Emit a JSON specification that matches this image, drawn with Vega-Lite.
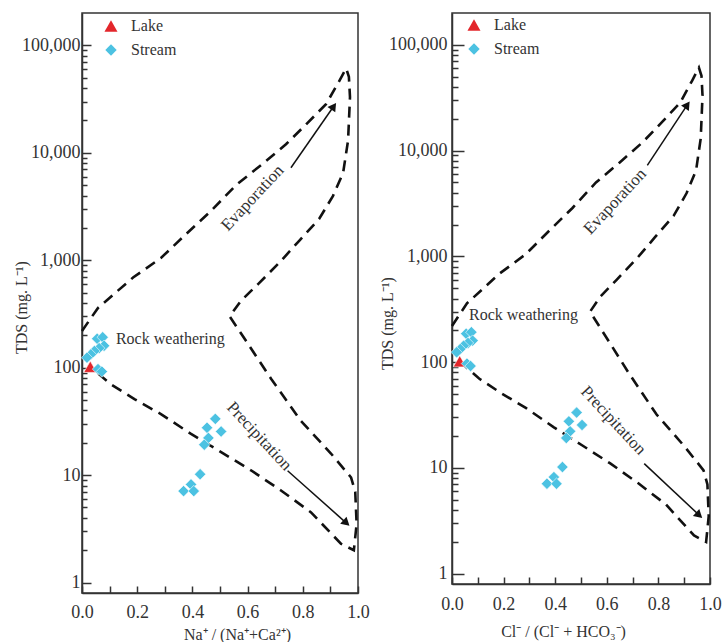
{
  "$schema": "https://vega.github.io/schema/vega-lite/v6.json",
  "background": "white",
  "padding": {"left": 12, "top": 12, "right": 0, "bottom": 0},
  "spacing": 8,
  "datasets": {
    "samples": [
      {"ratio": 0.03, "tds": 102, "type": "Lake"},
      {"ratio": 0.055, "tds": 186, "type": "Stream"},
      {"ratio": 0.075, "tds": 192, "type": "Stream"},
      {"ratio": 0.08, "tds": 160, "type": "Stream"},
      {"ratio": 0.062, "tds": 152, "type": "Stream"},
      {"ratio": 0.045, "tds": 143, "type": "Stream"},
      {"ratio": 0.032, "tds": 133, "type": "Stream"},
      {"ratio": 0.018, "tds": 124, "type": "Stream"},
      {"ratio": 0.058, "tds": 97, "type": "Stream"},
      {"ratio": 0.072, "tds": 92, "type": "Stream"},
      {"ratio": 0.483, "tds": 33.4, "type": "Stream"},
      {"ratio": 0.453, "tds": 27.6, "type": "Stream"},
      {"ratio": 0.504, "tds": 25.5, "type": "Stream"},
      {"ratio": 0.458, "tds": 22.2, "type": "Stream"},
      {"ratio": 0.443, "tds": 19.2, "type": "Stream"},
      {"ratio": 0.428, "tds": 10.2, "type": "Stream"},
      {"ratio": 0.395, "tds": 8.2, "type": "Stream"},
      {"ratio": 0.368, "tds": 7.1, "type": "Stream"},
      {"ratio": 0.405, "tds": 7.1, "type": "Stream"}
    ],
    "envelope": [
      {"order": 1, "ratio": 0.0, "tds": 220},
      {"order": 2, "ratio": 0.058, "tds": 360},
      {"order": 3, "ratio": 0.12, "tds": 495},
      {"order": 4, "ratio": 0.185, "tds": 690},
      {"order": 5, "ratio": 0.286, "tds": 1050},
      {"order": 6, "ratio": 0.377, "tds": 1750},
      {"order": 7, "ratio": 0.467, "tds": 2870},
      {"order": 8, "ratio": 0.558, "tds": 5000},
      {"order": 9, "ratio": 0.649, "tds": 7700},
      {"order": 10, "ratio": 0.739, "tds": 12000},
      {"order": 11, "ratio": 0.812, "tds": 18400},
      {"order": 12, "ratio": 0.884, "tds": 28300},
      {"order": 13, "ratio": 0.931, "tds": 46000},
      {"order": 14, "ratio": 0.957, "tds": 61000},
      {"order": 15, "ratio": 0.967, "tds": 51000},
      {"order": 16, "ratio": 0.971, "tds": 33000},
      {"order": 17, "ratio": 0.964, "tds": 13000},
      {"order": 18, "ratio": 0.946, "tds": 6500},
      {"order": 19, "ratio": 0.909, "tds": 3950},
      {"order": 20, "ratio": 0.859, "tds": 2420},
      {"order": 21, "ratio": 0.786, "tds": 1510},
      {"order": 22, "ratio": 0.721, "tds": 985},
      {"order": 23, "ratio": 0.638, "tds": 600},
      {"order": 24, "ratio": 0.576, "tds": 420},
      {"order": 25, "ratio": 0.535, "tds": 300},
      {"order": 26, "ratio": 0.594, "tds": 178},
      {"order": 27, "ratio": 0.685, "tds": 79},
      {"order": 28, "ratio": 0.793, "tds": 32},
      {"order": 29, "ratio": 0.902, "tds": 15.9},
      {"order": 30, "ratio": 0.975, "tds": 9.5},
      {"order": 31, "ratio": 0.99, "tds": 7},
      {"order": 32, "ratio": 0.995, "tds": 3.5},
      {"order": 33, "ratio": 0.985, "tds": 2.0},
      {"order": 34, "ratio": 0.938, "tds": 2.3},
      {"order": 35, "ratio": 0.83, "tds": 4.5},
      {"order": 36, "ratio": 0.721, "tds": 7.2},
      {"order": 37, "ratio": 0.612, "tds": 11.1},
      {"order": 38, "ratio": 0.504, "tds": 16.4},
      {"order": 39, "ratio": 0.395, "tds": 24.2},
      {"order": 40, "ratio": 0.286, "tds": 37},
      {"order": 41, "ratio": 0.19, "tds": 51},
      {"order": 42, "ratio": 0.105, "tds": 70},
      {"order": 43, "ratio": 0.05, "tds": 92}
    ],
    "arrows": [
      {"arrow": "evaporation", "order": 1, "ratio": 0.757, "tds": 7250},
      {"arrow": "evaporation", "order": 2, "ratio": 0.912, "tds": 27100},
      {"arrow": "precipitation", "order": 1, "ratio": 0.745, "tds": 11},
      {"arrow": "precipitation", "order": 2, "ratio": 0.958, "tds": 3.58}
    ],
    "heads": [
      {"arrow": "evaporation", "ratio": 0.912, "tds": 27100},
      {"arrow": "precipitation", "ratio": 0.958, "tds": 3.58}
    ],
    "notes": [
      {"panel": "left", "note": "Evaporation", "ratio": 0.618, "tds": 3800},
      {"panel": "left", "note": "Precipitation", "ratio": 0.642, "tds": 23},
      {"panel": "left", "note": "Rock weathering", "ratio": 0.123, "tds": 185},
      {"panel": "right", "note": "Evaporation", "ratio": 0.632, "tds": 3300},
      {"panel": "right", "note": "Precipitation", "ratio": 0.625, "tds": 28},
      {"panel": "right", "note": "Rock weathering", "ratio": 0.066, "tds": 280}
    ]
  },
  "hconcat": [
    {
      "width": 276,
      "height": 580,
      "encoding": {
        "x": {
          "field": "ratio", "type": "quantitative",
          "scale": {"domain": [0, 1], "nice": false, "zero": false},
          "axis": {
            "title": "Na⁺ / (Na⁺+Ca²⁺)",
            "values": [0, 0.1, 0.2, 0.3, 0.4, 0.5, 0.6, 0.7, 0.8, 0.9, 1],
            "labelExpr": "round(datum.value*10) % 2 == 0 ? format(datum.value, '.1f') : ''",
            "tickSize": -7, "labelPadding": 17, "labelFlush": false, "labelOverlap": false,
            "titleX": 155, "titleY": 41, "titleBaseline": "middle", "grid": false
          }
        },
        "y": {
          "field": "tds", "type": "quantitative",
          "scale": {"type": "log", "domain": [0.8, 200000], "nice": false},
          "axis": {
            "title": "TDS (mg. L⁻¹)",
            "values": [1,2,3,4,5,6,7,8,9,10,20,30,40,50,60,70,80,90,100,200,300,400,500,600,700,800,900,1000,2000,3000,4000,5000,6000,7000,8000,9000,10000,20000,30000,40000,50000,60000,70000,80000,90000,100000],
            "labelExpr": "indexof([1,10,100,1000,10000,100000], datum.value) >= 0 ? format(datum.value, ',') : ''",
            "tickSize": {"condition": {"test": "indexof([1,10,100,1000,10000,100000], datum.value) >= 0", "value": -9}, "value": -5},
            "labelPadding": 11, "labelOverlap": false,
            "titleX": -61, "titleY": 294, "titleBaseline": "middle", "grid": false
          }
        }
      },
      "layer": [
        {"data": {"name": "envelope"}, "mark": {"type": "line", "strokeDash": [11, 7], "strokeWidth": 2.6, "color": "#111"}, "encoding": {"order": {"field": "order", "type": "quantitative"}}},
        {"data": {"name": "arrows"}, "mark": {"type": "line", "strokeWidth": 1.5, "color": "#111"}, "encoding": {"detail": {"field": "arrow", "type": "nominal"}, "order": {"field": "order", "type": "quantitative"}}},
        {"data": {"name": "heads"}, "transform": [{"filter": "datum.arrow == 'evaporation'"}], "mark": {"type": "point", "shape": "triangle-up", "filled": true, "opacity": 1, "color": "#111", "size": 90, "angle": 35}},
        {"data": {"name": "heads"}, "transform": [{"filter": "datum.arrow == 'precipitation'"}], "mark": {"type": "point", "shape": "triangle-up", "filled": true, "opacity": 1, "color": "#111", "size": 90, "angle": 132}},
        {"data": {"name": "notes"}, "transform": [{"filter": "datum.panel == 'left' && datum.note == 'Evaporation'"}], "mark": {"type": "text", "angle": 313, "font": "Liberation Serif", "fontSize": 17, "color": "#333"}, "encoding": {"text": {"field": "note"}}},
        {"data": {"name": "notes"}, "transform": [{"filter": "datum.panel == 'left' && datum.note == 'Precipitation'"}], "mark": {"type": "text", "angle": 47, "font": "Liberation Serif", "fontSize": 17, "color": "#333"}, "encoding": {"text": {"field": "note"}}},
        {"data": {"name": "notes"}, "transform": [{"filter": "datum.panel == 'left' && datum.note == 'Rock weathering'"}], "mark": {"type": "text", "align": "left", "font": "Liberation Serif", "fontSize": 16, "color": "#333"}, "encoding": {"text": {"field": "note"}}},
        {
          "data": {"name": "samples"},
          "mark": {"type": "point", "filled": true, "opacity": 1, "stroke": "white", "strokeWidth": 0.6},
          "encoding": {
            "color": {"field": "type", "type": "nominal", "scale": {"domain": ["Lake", "Stream"], "range": ["#e3262b", "#4cc2e2"]}, "legend": {"orient": "none", "legendX": 21, "legendY": 5, "title": null}},
            "shape": {"field": "type", "type": "nominal", "scale": {"domain": ["Lake", "Stream"], "range": ["triangle-up", "diamond"]}, "legend": {"orient": "none", "legendX": 21, "legendY": 5, "title": null}},
            "size": {"field": "type", "type": "nominal", "scale": {"domain": ["Lake", "Stream"], "range": [170, 130]}, "legend": {"orient": "none", "legendX": 21, "legendY": 5, "title": null}}
          }
        }
      ]
    },
    {
      "width": 258,
      "height": 571,
      "encoding": {
        "x": {
          "field": "ratio", "type": "quantitative",
          "scale": {"domain": [0, 1], "nice": false, "zero": false},
          "axis": {
            "title": "Cl⁻ / (Cl⁻ + HCO₃⁻)",
            "values": [0, 0.1, 0.2, 0.3, 0.4, 0.5, 0.6, 0.7, 0.8, 0.9, 1],
            "labelExpr": "round(datum.value*10) % 2 == 0 ? format(datum.value, '.1f') : ''",
            "tickSize": -7, "labelPadding": 18, "labelFlush": false, "labelOverlap": false,
            "titleX": 111, "titleY": 47, "titleBaseline": "middle", "grid": false
          }
        },
        "y": {
          "field": "tds", "type": "quantitative",
          "scale": {"type": "log", "domain": [0.8, 200000], "nice": false},
          "axis": {
            "title": "TDS (mg. L⁻¹)",
            "values": [1,2,3,4,5,6,7,8,9,10,20,30,40,50,60,70,80,90,100,200,300,400,500,600,700,800,900,1000,2000,3000,4000,5000,6000,7000,8000,9000,10000,20000,30000,40000,50000,60000,70000,80000,90000,100000],
            "labelExpr": "indexof([1,10,100,1000,10000,100000], datum.value) >= 0 ? format(datum.value, ',') : ''",
            "tickSize": {"condition": {"test": "indexof([1,10,100,1000,10000,100000], datum.value) >= 0", "value": -12}, "value": -6},
            "labelPadding": 17, "labelOverlap": false,
            "titleX": -65, "titleY": 310, "titleBaseline": "middle", "grid": false
          }
        }
      },
      "layer": [
        {"data": {"name": "envelope"}, "mark": {"type": "line", "strokeDash": [11, 7], "strokeWidth": 2.6, "color": "#111"}, "encoding": {"order": {"field": "order", "type": "quantitative"}}},
        {"data": {"name": "arrows"}, "mark": {"type": "line", "strokeWidth": 1.5, "color": "#111"}, "encoding": {"detail": {"field": "arrow", "type": "nominal"}, "order": {"field": "order", "type": "quantitative"}}},
        {"data": {"name": "heads"}, "transform": [{"filter": "datum.arrow == 'evaporation'"}], "mark": {"type": "point", "shape": "triangle-up", "filled": true, "opacity": 1, "color": "#111", "size": 90, "angle": 35}},
        {"data": {"name": "heads"}, "transform": [{"filter": "datum.arrow == 'precipitation'"}], "mark": {"type": "point", "shape": "triangle-up", "filled": true, "opacity": 1, "color": "#111", "size": 90, "angle": 132}},
        {"data": {"name": "notes"}, "transform": [{"filter": "datum.panel == 'right' && datum.note == 'Evaporation'"}], "mark": {"type": "text", "angle": 313, "font": "Liberation Serif", "fontSize": 17, "color": "#333"}, "encoding": {"text": {"field": "note"}}},
        {"data": {"name": "notes"}, "transform": [{"filter": "datum.panel == 'right' && datum.note == 'Precipitation'"}], "mark": {"type": "text", "angle": 47, "font": "Liberation Serif", "fontSize": 17, "color": "#333"}, "encoding": {"text": {"field": "note"}}},
        {"data": {"name": "notes"}, "transform": [{"filter": "datum.panel == 'right' && datum.note == 'Rock weathering'"}], "mark": {"type": "text", "align": "left", "font": "Liberation Serif", "fontSize": 16, "color": "#333"}, "encoding": {"text": {"field": "note"}}},
        {
          "data": {"name": "samples"},
          "mark": {"type": "point", "filled": true, "opacity": 1, "stroke": "white", "strokeWidth": 0.6},
          "encoding": {
            "color": {"field": "type", "type": "nominal", "scale": {"domain": ["Lake", "Stream"], "range": ["#e3262b", "#4cc2e2"]}, "legend": {"orient": "none", "legendX": 21, "legendY": 4, "title": null, "symbolOffset": -7}},
            "shape": {"field": "type", "type": "nominal", "scale": {"domain": ["Lake", "Stream"], "range": ["triangle-up", "diamond"]}, "legend": {"orient": "none", "legendX": 21, "legendY": 4, "title": null, "symbolOffset": -7}},
            "size": {"field": "type", "type": "nominal", "scale": {"domain": ["Lake", "Stream"], "range": [170, 130]}, "legend": {"orient": "none", "legendX": 21, "legendY": 4, "title": null, "symbolOffset": -7}}
          }
        }
      ]
    }
  ],
  "resolve": {
    "scale": {"color": "independent", "shape": "independent", "size": "independent"},
    "legend": {"color": "independent", "shape": "independent", "size": "independent"}
  },
  "config": {
    "view": {"stroke": "#333", "strokeWidth": 1.5},
    "axis": {
      "domainColor": "#333", "domainWidth": 1.5, "tickColor": "#333", "tickWidth": 1.5,
      "labelFont": "Liberation Serif", "labelFontSize": 18, "labelColor": "#333",
      "titleFont": "Liberation Serif", "titleFontSize": 16, "titleFontWeight": "normal", "titleColor": "#333"
    },
    "legend": {
      "labelFont": "Liberation Serif", "labelFontSize": 16, "labelColor": "#333",
      "rowPadding": 8, "padding": 0, "labelOffset": 12, "symbolStrokeWidth": 0
    }
  }
}
